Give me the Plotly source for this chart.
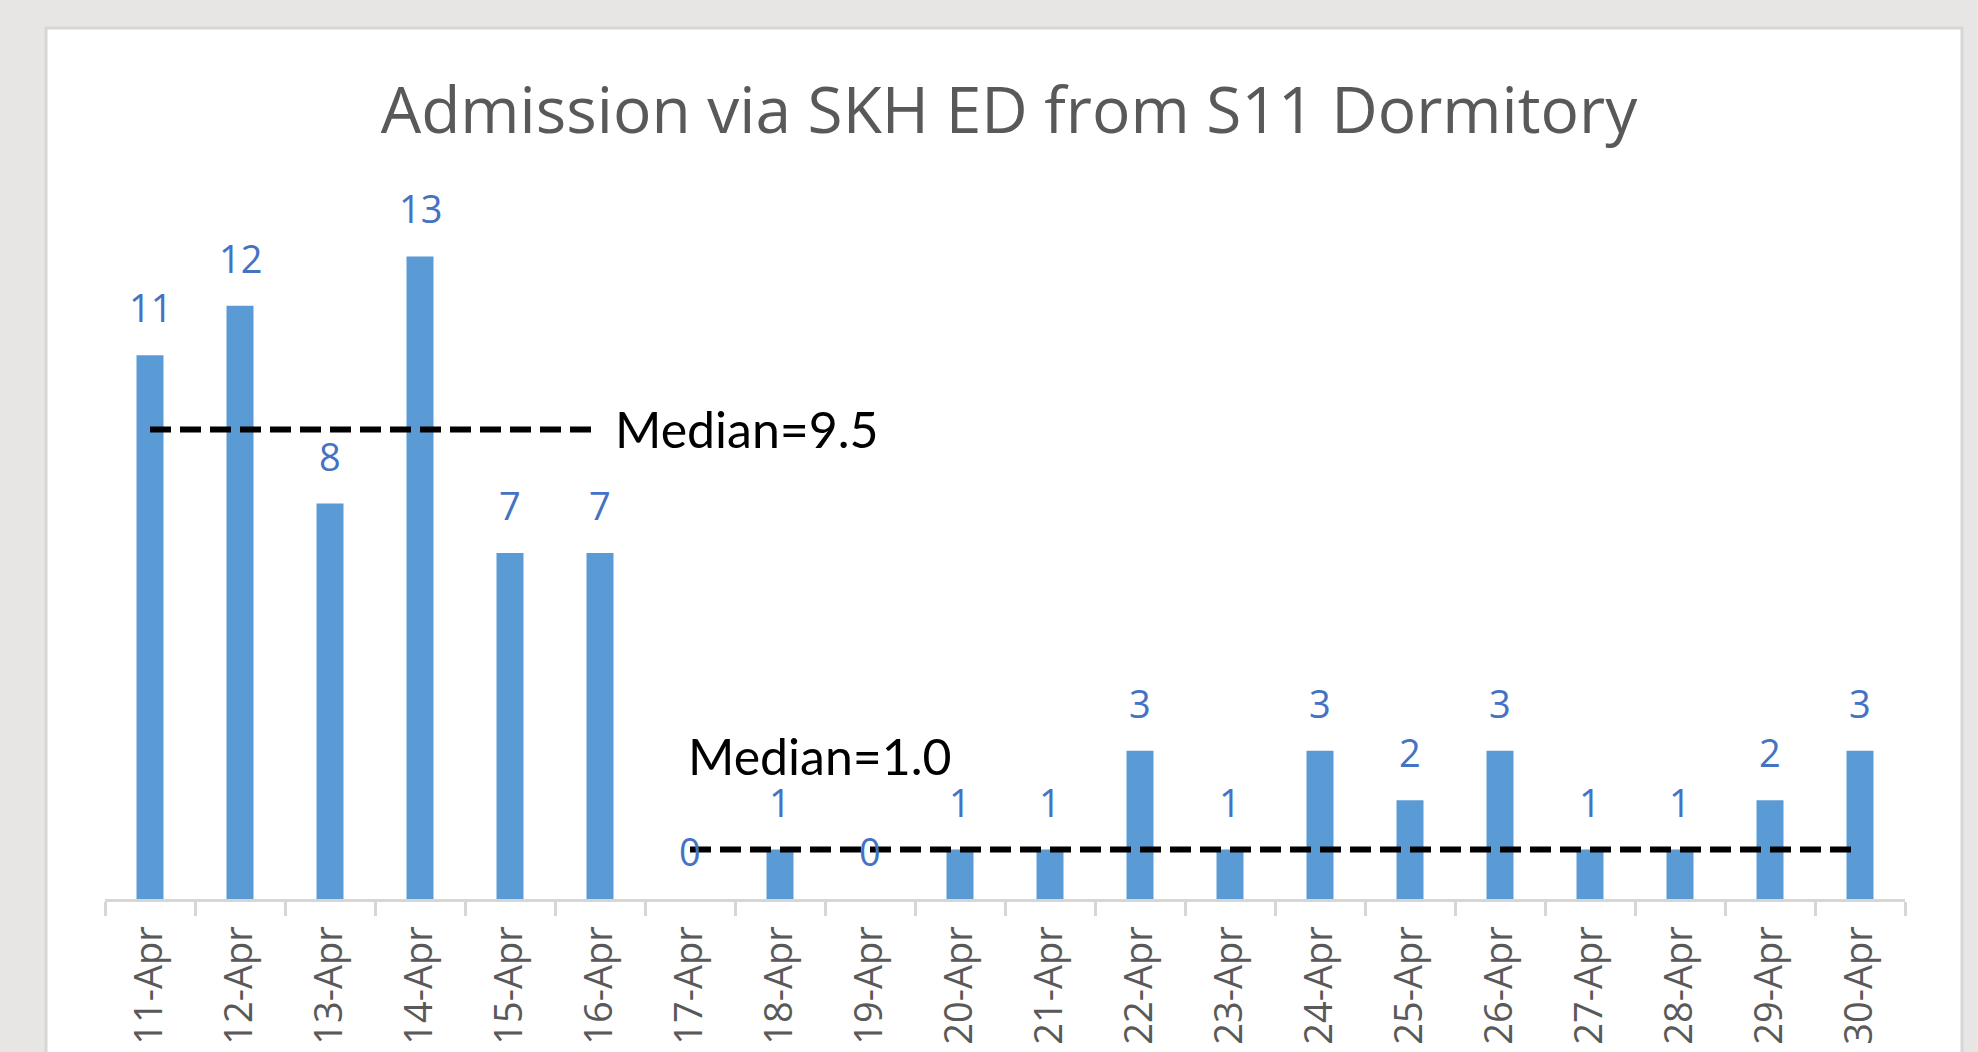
import plotly.graph_objects as go

dates = ["11-Apr", "12-Apr", "13-Apr", "14-Apr", "15-Apr", "16-Apr", "17-Apr", "18-Apr",
         "19-Apr", "20-Apr", "21-Apr", "22-Apr", "23-Apr", "24-Apr", "25-Apr", "26-Apr",
         "27-Apr", "28-Apr", "29-Apr", "30-Apr"]
admissions = [11, 12, 8, 13, 7, 7, 0, 1, 0, 1, 1, 3, 1, 3, 2, 3, 1, 1, 2, 3]

median1_x = ["11-Apr", "16-Apr"]
median1_y = [9.5, 9.5]
median1_label = "Median=9.5"
median2_x = ["17-Apr", "30-Apr"]
median2_y = [1.0, 1.0]
median2_label = "Median=1.0"

title = "Admission via SKH ED from S11 Dormitory"

W, H = 1978, 1052
L, R = 105, 1905
T, B = 207, 899

fig = go.Figure()
fig.add_trace(go.Bar(x=dates, y=admissions, marker=dict(color="#5B9BD5", line=dict(width=0)),
                     hoverinfo="x+y"))
for mx, my in [(median1_x, median1_y), (median2_x, median2_y)]:
    fig.add_trace(go.Scatter(x=mx, y=my, mode="lines",
                             line=dict(color="black", width=6, dash="21px,9px"),
                             hoverinfo="skip"))

annotations = []
for d, v in zip(dates, admissions):
    annotations.append(dict(x=d, y=v, xref="x", yref="y", text=str(v), showarrow=False,
                            yanchor="middle", xanchor="center", yshift=48,
                            font=dict(family="Open Sans", size=38, color="#4472C4")))
annotations.append(dict(x=median1_x[-1], y=median1_y[-1], xref="x", yref="y",
                        text=median1_label, showarrow=False, xanchor="left", yanchor="middle",
                        xshift=13, font=dict(family="Lato", size=50, color="black")))
annotations.append(dict(x=median2_x[0], y=median2_y[0], xref="x", yref="y",
                        text=median2_label, showarrow=False, xanchor="left", yanchor="middle",
                        xshift=-4, yshift=94, font=dict(family="Lato", size=50, color="black")))

pw, ph = R - L, B - T
def px_x(p):
    return (p - L) / pw
def px_y(p):
    return (B - p) / ph

fig.update_layout(
    width=W, height=H,
    margin=dict(l=L, r=W - R, t=T, b=H - B, pad=0),
    paper_bgcolor="#E7E6E4",
    plot_bgcolor="rgba(0,0,0,0)",
    showlegend=False,
    bargap=0.7,
    title=dict(text=title, x=1009 / W, xanchor="center", y=1 - 111 / H, yanchor="middle",
               yref="container", font=dict(family="Open Sans", size=64, color="#595959")),
    annotations=annotations,
    shapes=[dict(type="rect", xref="paper", yref="paper", layer="below",
                 x0=px_x(46), x1=px_x(1962), y0=px_y(1070), y1=px_y(28),
                 fillcolor="white", line=dict(color="#D6D6D6", width=3))],
    xaxis=dict(type="category", tickson="boundaries", ticks="outside", ticklen=14,
               tickwidth=3, tickcolor="#D6D6D6", showline=True, linecolor="#D6D6D6",
               linewidth=3, tickangle=-90, showgrid=False, automargin=False,
               tickfont=dict(family="Open Sans", size=38, color="#595959"),
               ticklabelstandoff=9),
    yaxis=dict(visible=False, range=[0, 14], showgrid=False, zeroline=False, fixedrange=True),
)

fig.write_html("out.html", config={"displayModeBar": False},
               post_script="document.body.style.margin='0';document.body.style.overflow='hidden';"
                           "document.body.style.background='#E7E6E4';")
